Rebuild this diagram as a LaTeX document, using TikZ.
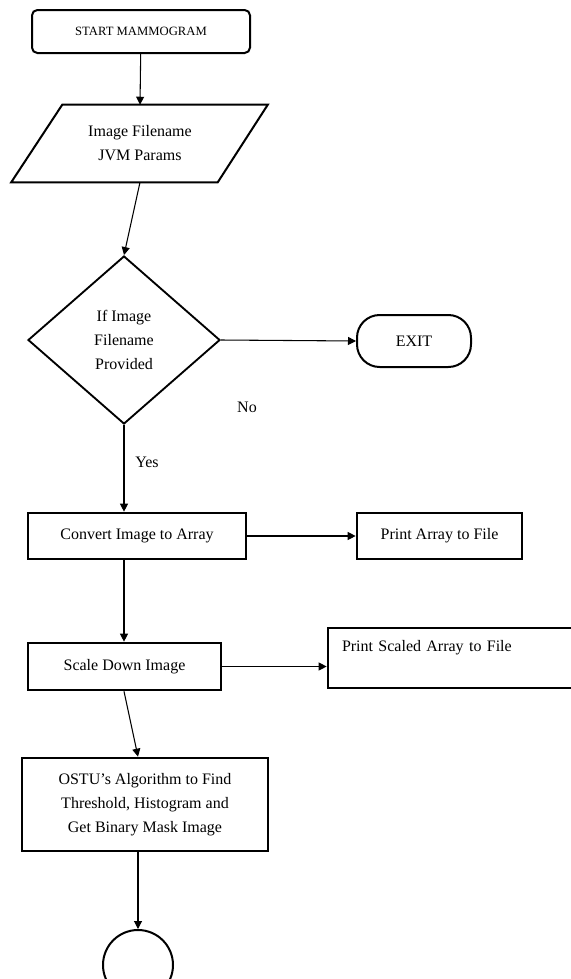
\documentclass[tikz,border=0pt]{standalone}
\usepackage{fontspec}
\setmainfont{Liberation Serif}
\usetikzlibrary{positioning}
\usetikzlibrary{calc}
\usetikzlibrary{shapes.geometric}
\usetikzlibrary{arrows.meta}

\begin{document}
\begin{tikzpicture}[
    x=0.75pt, y=-0.75pt,
    font=\fontsize{12}{18}\selectfont,
    arr/.style={
      line width=0.8pt,
      -{Triangle[length=6pt, width=6pt]}
    },
    box/.style={
      draw=black,
      fill=white,
      line width=2pt,
      rectangle,
      align=center,
      inner sep=2pt
    },
    term/.style={
      draw=black,
      line width=1.5pt,
      rectangle,
      align=center
    },
    decision/.style={
      draw=black,
      line width=1.4pt,
      diamond,
      aspect=1.14,
      align=center,
      inner sep=0pt,
      minimum width=144pt,
      minimum height=126pt
    }
  ]
  \useasboundingbox (0,0) rectangle (571,979);

  % main column
  \node[term, rounded corners=4pt, minimum width=163.5pt, minimum height=32.25pt,
        font=\fontsize{9.5}{11}\selectfont] (start) at (141,31.5) {START MAMMOGRAM};

  \node[align=center, minimum width=116.25pt, minimum height=57.75pt, inner sep=0pt]
        (params) at (140,143.5) {Image Filename\\JVM Params};
  \draw[line width=1.5pt, line join=miter]
        ($(params.south west)+(-51,0)$) -- (params.south east)
        -- ($(params.north east)+(50,0)$) -- (params.north west) -- cycle;

  \node[decision] (cond) at (124,340) {If Image\\Filename\\Provided};

  \node[term, rounded corners=17pt, minimum width=85.5pt, minimum height=39pt]
        (exit) at (414,341) {EXIT};

  \node (no) at (247,407) {No};
  \node (yes) at (147,462) {Yes};

  \node[box, minimum width=163.5pt, minimum height=34.5pt] (convert) at (137,536)
        {Convert Image to Array};
  \node[box, minimum width=123.75pt, minimum height=34.5pt] (printarr) at (439.5,536)
        {Print Array to File};

  \node[box, minimum width=144.75pt, minimum height=35.25pt] (scale) at (124.5,666.5)
        {Scale Down Image};
  \node[box, align=left, text width=162pt, inner xsep=10.5pt, minimum height=45pt]
        (printscaled) at (450,658) {Print Scaled Array to File\\~};

  \node[box, minimum width=184.5pt, minimum height=69.75pt] (ostu) at (145,804.5)
        {OSTU's Algorithm to Find\\Threshold, Histogram and\\Get Binary Mask Image};

  \node[draw=black, line width=1.5pt, circle, minimum size=52.5pt] (stop) at (138,965) {};

  % connectors
  \draw[arr] (start) -- (params.north);
  \draw[arr] (params.south) -- (cond.north);
  \draw[arr] (cond.east) -- (exit.west);
  \draw[arr] (cond.south) -- (convert.north -| cond.south);
  \draw[arr] (convert.east) -- (printarr.west);
  \draw[arr] (convert.south -| cond.south) -- (scale.north -| cond.south);
  \draw[arr] (scale.east) -- (scale.east -| printscaled.west);
  \draw[arr] (scale.south -| cond.south) -- (ostu.north -| stop.north);
  \draw[arr] (ostu.south -| stop.north) -- (stop.north);
\end{tikzpicture}
\end{document}
